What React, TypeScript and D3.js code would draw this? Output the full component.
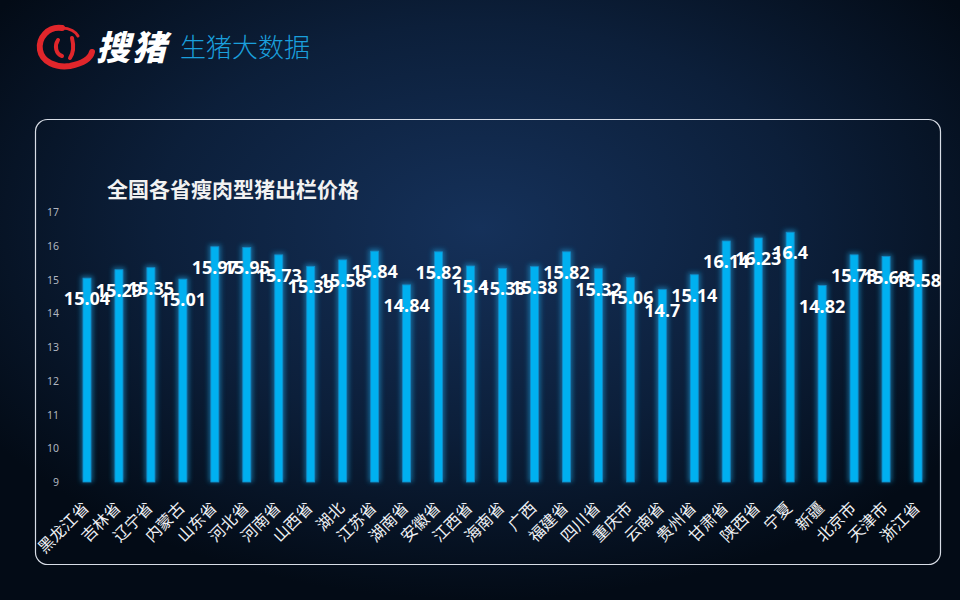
import React from 'react';
import * as d3 from 'd3';

const provinces = ['黑龙江省','吉林省','辽宁省','内蒙古','山东省','河北省','河南省','山西省','湖北','江苏省','湖南省','安徽省','江西省','海南省','广西','福建省','四川省','重庆市','云南省','贵州省','甘肃省','陕西省','宁夏','新疆','北京市','天津市','浙江省'];
const prices = [15.04,15.29,15.35,15.01,15.97,15.95,15.73,15.39,15.58,15.84,14.84,15.82,15.4,15.33,15.38,15.82,15.32,15.06,14.7,15.14,16.14,16.23,16.4,14.82,15.73,15.68,15.58];
const yTicks = [9,10,11,12,13,14,15,16,17];
const chartTitle = '全国各省瘦肉型猪出栏价格';
const brandName = '搜猪';
const brandSub = '生猪大数据';

const W = 960, H = 600;

export default function App() {
  const x = d3.scaleBand<string>().domain(provinces).range([71, 934]).padding(0);
  const y = d3.scaleLinear().domain([9, 17]).range([482, 212]);
  const barW = 8;
  return (
    <svg width={W} height={H} style={{ position: 'absolute', left: 0, top: 0, display: 'block' }}>
      <defs>
        <radialGradient id="bg" cx="50%" cy="38%" r="62%" fx="50%" fy="38%">
          <stop offset="0%" stopColor="#15315a" />
          <stop offset="55%" stopColor="#0c1f3a" />
          <stop offset="100%" stopColor="#030b16" />
        </radialGradient>
        <filter id="glow" x="-150%" y="-10%" width="400%" height="120%">
          <feGaussianBlur stdDeviation="2.5" />
        </filter>
      </defs>
      <rect x={0} y={0} width={W} height={H} fill="url(#bg)" />
      {/* logo */}
      <g>
        <path d="M62,28 C48,26 38,38 40,50 C42,62 56,68 70,66 C80,64 90,60 92,52" fill="none" stroke="#e0262b" strokeWidth={6} strokeLinecap="round" />
        <path d="M58,40 C54,46 56,54 62,56" fill="none" stroke="#e0262b" strokeWidth={4} strokeLinecap="round" />
        <path d="M72,38 C74,46 74,52 70,58" fill="none" stroke="#e0262b" strokeWidth={4} strokeLinecap="round" />
        <path d="M62,28 C70,28 76,32 78,36" fill="none" stroke="#e0262b" strokeWidth={3} strokeLinecap="round" />
        <text x={96} y={60} fill="#ffffff" fontFamily="'Noto Sans CJK SC', serif" fontWeight={900} fontSize={34} fontStyle="italic" letterSpacing={2}>{brandName}</text>
        <text x={180} y={57} fill="#1a9fdc" fontFamily="'Noto Sans CJK SC', sans-serif" fontSize={26} fontWeight={300}>{brandSub}</text>
      </g>
      <rect x={35.5} y={119.5} width={905} height={445} rx={12} ry={12} fill="none" stroke="#d8dde6" strokeWidth={1.2} />
      <text x={107} y={197} fill="#f2f2f2" fontFamily="'Noto Sans CJK SC', serif" fontWeight={700} fontSize={21}>{chartTitle}</text>
      {yTicks.map(t => (
        <text key={t} x={59} y={y(t) + 4} textAnchor="end" fill="#b0b6c0" fontFamily="'Noto Sans', sans-serif" fontSize={10.5}>{t}</text>
      ))}
      {provinces.map((p, i) => {
        const cx = (x(p) as number) + x.bandwidth() / 2;
        const top = y(prices[i]);
        return (
          <g key={p}>
            <rect x={cx - barW / 2 - 2} y={top - 2} width={barW + 4} height={y(9) - top + 2} fill="#1aa6e6" opacity={0.55} filter="url(#glow)" />
            <rect x={cx - barW / 2} y={top} width={barW} height={y(9) - top} fill="#00b0f0" stroke="#1689c4" strokeWidth={0.8} />
          </g>
        );
      })}
      {provinces.map((p, i) => {
        const cx = (x(p) as number) + x.bandwidth() / 2;
        const top = y(prices[i]);
        return (
          <text key={'l' + p} x={cx} y={top + 27} textAnchor="middle" fill="#ffffff" fontFamily="'Noto Sans', sans-serif" fontWeight={700} fontSize={18}>{String(prices[i])}</text>
        );
      })}
      {provinces.map(p => {
        const cx = (x(p) as number) + x.bandwidth() / 2;
        return (
          <text key={'x' + p} transform={`translate(${cx + 3},${y(9) + 27}) rotate(-45)`} textAnchor="end" fill="#eef0f4" fontFamily="'Noto Sans CJK SC', serif" fontSize={16}>{p}</text>
        );
      })}
    </svg>
  );
}
